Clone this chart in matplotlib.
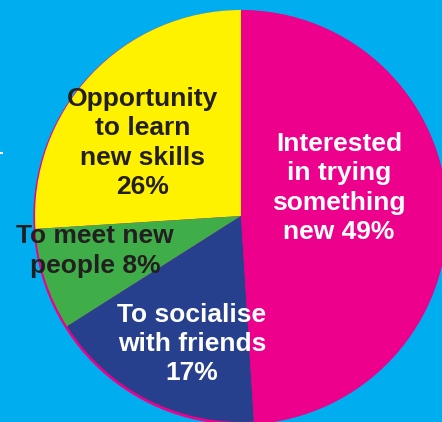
import matplotlib
matplotlib.use("Agg")
import matplotlib.pyplot as plt
from matplotlib.patches import Circle

# Reasons for taking part (percent of respondents)
categories = ["Interested\nin trying\nsomething\nnew", "Opportunity\nto learn\nnew skills\n",
              "To meet new\npeople", "To socialise\nwith friends\n"]
values = [49, 26, 8, 17]
slice_colors = ["#EC008C", "#FFF200", "#3FAE49", "#27408E"]
text_colors = ["white", "#231F20", "#231F20", "white"]

# drawing order around the circle (counter-clockwise from 12 o'clock)
order = [1, 2, 3, 0]

W, H = 442, 422
fig = plt.figure(figsize=(W / 100, H / 100), dpi=100)
fig.patch.set_facecolor("#00AEEF")
ax = fig.add_axes([0, 0, 1, 1])
ax.set_facecolor("#00AEEF")

cx, cy, r = 241, H - 216, 206

# thin magenta rim showing behind the lower-left edge
ax.add_patch(Circle((cx - 0.5, cy - 1.5), r + 0.5, color="#EC008C", zorder=0))

ax.pie([values[i] for i in order], colors=[slice_colors[i] for i in order],
       startangle=90, counterclock=True, center=(cx, cy), radius=r,
       wedgeprops=dict(linewidth=0), frame=True)

# label anchor points (pixel positions of each text block centre)
label_pos = {0: (339, 188), 1: (143, 143), 2: (95, 251), 3: (192, 344)}
for i, (lab, v) in enumerate(zip(categories, values)):
    sep = "" if lab.endswith("\n") else " "
    txt = f"{lab}{sep}{v}%"
    x, y = label_pos[i]
    ax.text(x, H - y, txt, ha="center", va="center", color=text_colors[i],
            fontsize=19, fontweight="bold", family=["Liberation Sans", "DejaVu Sans"],
            linespacing=1.27, zorder=5)

# small white tick at the left margin
ax.plot([0, 3], [H - 153, H - 153], color="white", lw=1.5, solid_capstyle="butt")

ax.set_xlim(0, W)
ax.set_ylim(0, H)
ax.set_aspect("equal")
ax.axis("off")

fig.savefig("out.png", dpi=100, facecolor=fig.get_facecolor())
